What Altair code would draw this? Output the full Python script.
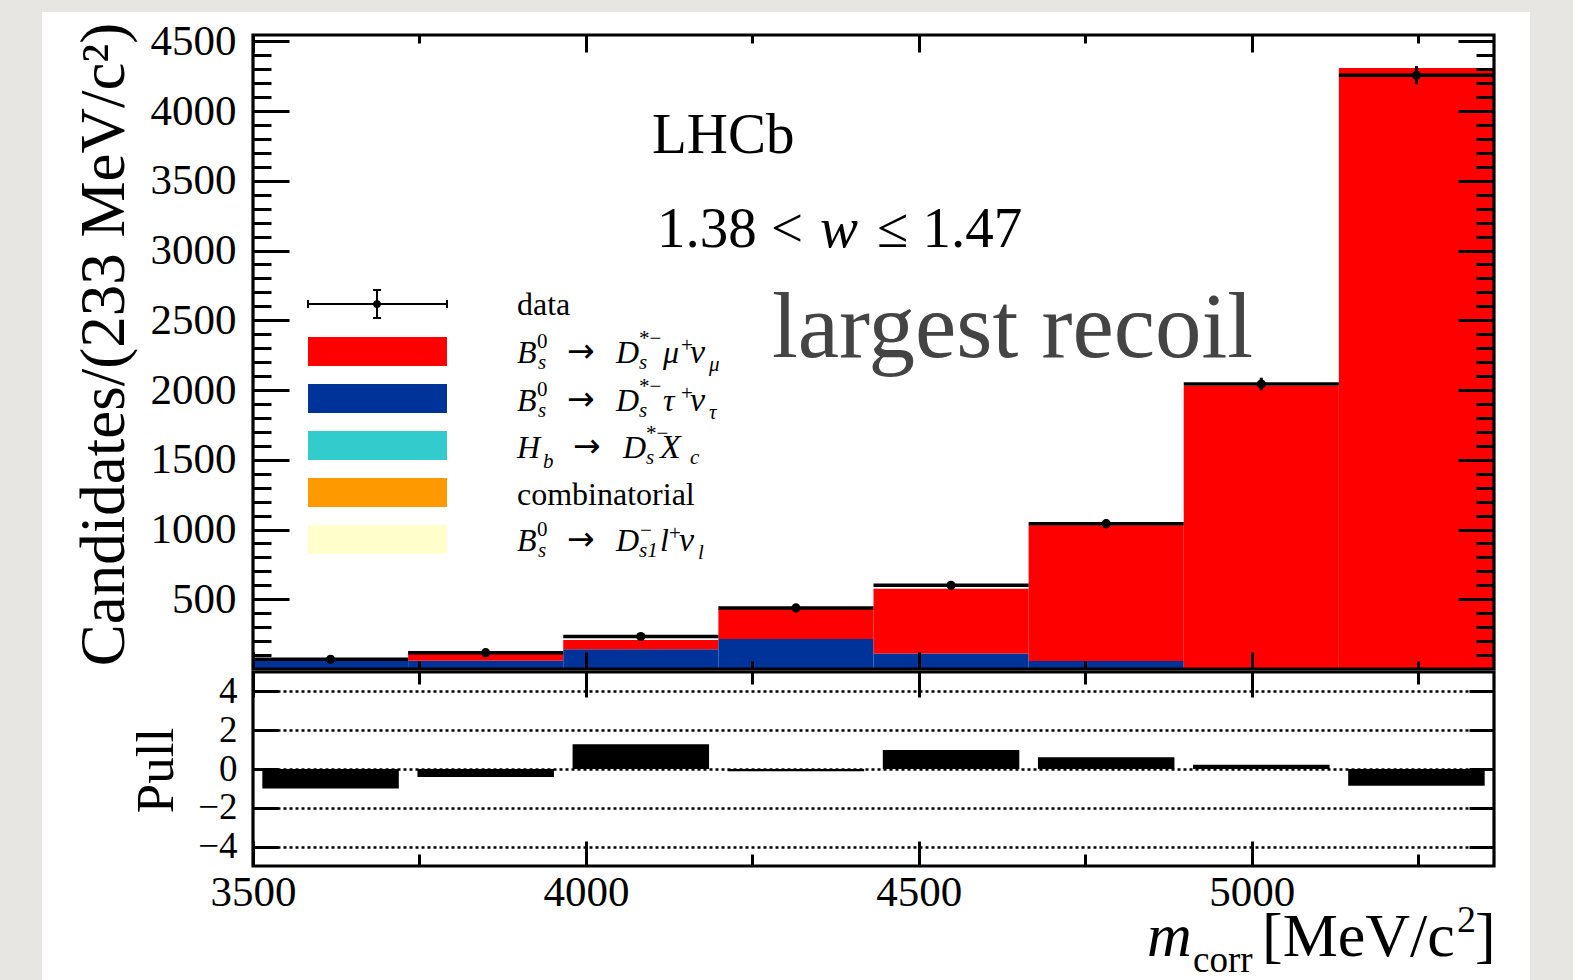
import altair as alt
import pandas as pd

# ---------------- values ----------------
bin_lo = [3500, 3733, 3966, 4199, 4432, 4665, 4898, 5131]
bin_hi = [3733, 3966, 4199, 4432, 4665, 4898, 5131, 5364]
data_counts = [70, 117, 233, 438, 600, 1042, 2043, 4257]
data_errors = [8, 11, 15, 21, 24, 32, 45, 65]
tau_counts = [57, 60, 141, 215, 112, 58, 4, 0]
mu_counts = [19, 52, 67, 217, 464, 973, 2024, 4309]
hb_counts = [0, 0, 0, 0, 0, 0, 0, 0]
comb_counts = [0, 0, 0, 0, 0, 0, 0, 0]
ds1_counts = [0, 0, 0, 0, 0, 0, 0, 0]
pull_values = [-1.0, -0.41, 1.28, -0.12, 0.98, 0.60, 0.22, -0.86]

component_keys = ["mu", "tau", "hb", "comb", "ds1"]
component_colors = ["#ff0000", "#003399", "#33cccc", "#ff9900", "#ffffcc"]
stack_order = ["tau", "mu", "hb", "comb", "ds1"]  # bottom to top

x_domain = [3500, 5364]
main_y_domain = [0, 4545]
pull_y_domain = [-5, 5]

x_major = [3500, 4000, 4500, 5000]
x_minor = [3750, 4250, 4750, 5250]
main_y_major = [500, 1000, 1500, 2000, 2500, 3000, 3500, 4000, 4500]
main_y_minor = list(range(100, 4600, 100))
pull_y_major = [-4, -2, 0, 2, 4]

y_title = "Candidates/(233 MeV/c\u00b2)"
pull_title = "Pull"

# ---------------- layout constants (pixels) ----------------
W, H = 1241, 831
MAIN_H = 634
PULL_TOP = 637
FONT = "Liberation Serif"
ARROW_FONT = "DejaVu Sans"
BAR_GAP = 14  # MeV gap on each side of pull bars

# ---------------- tables ----------------
counts_by_key = {"mu": mu_counts, "tau": tau_counts, "hb": hb_counts,
                 "comb": comb_counts, "ds1": ds1_counts}
stack_rows = []
for i in range(len(bin_lo)):
    base = 0
    for k in stack_order:
        v = counts_by_key[k][i]
        stack_rows.append({"lo": bin_lo[i], "hi": bin_hi[i], "y0": base,
                           "y1": base + v, "comp": k})
        base += v
stack_df = pd.DataFrame(stack_rows)

bins_df = pd.DataFrame({
    "lo": bin_lo, "hi": bin_hi,
    "center": [(a + b) / 2 for a, b in zip(bin_lo, bin_hi)],
    "count": data_counts,
    "elo": [c - e for c, e in zip(data_counts, data_errors)],
    "ehi": [c + e for c, e in zip(data_counts, data_errors)],
    "pull": pull_values,
    "zero": [0] * len(bin_lo),
    "blo": [a + BAR_GAP for a in bin_lo],
    "bhi": [b - BAR_GAP for b in bin_hi],
})

main_frame_df = pd.DataFrame({"x0": [x_domain[0]], "x1": [x_domain[1]],
                              "y0": [main_y_domain[0]], "y1": [main_y_domain[1]]})
pull_frame_df = pd.DataFrame({"x0": [x_domain[0]], "x1": [x_domain[1]],
                              "y0": [pull_y_domain[0]], "y1": [pull_y_domain[1]]})


def xs():
    return alt.Scale(domain=x_domain, range=[0, W], nice=False, zero=False)


def ys_main():
    return alt.Scale(domain=main_y_domain, range=[MAIN_H, 0], nice=False, zero=False)


def ys_pull():
    return alt.Scale(domain=pull_y_domain, range=[H, PULL_TOP], nice=False, zero=False)


def tick_axis(orient, values, size, offset, **kw):
    opts = dict(orient=orient, values=values, tickSize=size, offset=offset,
                domain=False, grid=False, ticks=True, tickColor="black",
                tickWidth=3, zindex=1, title=None, labels=False)
    opts.update(kw)
    return alt.Axis(**opts)


# axes ------------------------------------------------------------
ax_main_bottom_major = tick_axis("bottom", x_major, 17, -(H - MAIN_H + 17))
ax_main_bottom_minor = tick_axis("bottom", x_minor, 8, -(H - MAIN_H + 8))
ax_main_top_major = tick_axis("top", x_major, 17, -17)
ax_main_top_minor = tick_axis("top", x_minor, 8, -8)
ax_pull_top_major = tick_axis("top", x_major, 25, -(PULL_TOP + 25))
ax_pull_top_minor = tick_axis("top", x_minor, 12, -(PULL_TOP + 12))
ax_pull_bottom_major = tick_axis("bottom", x_major, 25, -25, labels=True,
                                 labelFontSize=43, labelPadding=5,
                                 labelFlush=False, format="d")
ax_pull_bottom_minor = tick_axis("bottom", x_minor, 12, -12)

ax_main_left_major = tick_axis("left", main_y_major, 36, -36, labels=True,
                               labelFontSize=43, labelPadding=17, format="d",
                               title=y_title, titleFontSize=63, titleX=-166,
                               titleY=309, titleAngle=270, titleAlign="center",
                               titleBaseline="alphabetic")
ax_main_left_minor = tick_axis("left", main_y_minor, 18, -18)
ax_main_right_major = tick_axis("right", main_y_major, 36, -36)
ax_main_right_minor = tick_axis("right", main_y_minor, 18, -18)
ax_pull_left_major = tick_axis("left", pull_y_major, 25, -25, labels=True,
                               labelFontSize=37, labelPadding=16, format="d",
                               title=pull_title, titleFontSize=53, titleX=-106,
                               titleY=735, titleAngle=270, titleAlign="center",
                               titleBaseline="alphabetic")
ax_pull_right_major = tick_axis("right", pull_y_major, 25, -25)
ax_pull_grid = alt.Axis(orient="left", values=pull_y_major, grid=True,
                        gridColor="black", gridDash=[3, 3], gridWidth=2.5,
                        ticks=False, labels=False, domain=False, title=None,
                        zindex=1)

# background panel (decorative) ------------------------------------
bg = alt.Chart(pd.DataFrame({"a": [0]})).mark_rect(color="white").encode(
    x=alt.value(-211), x2=alt.value(1277), y=alt.value(-23), y2=alt.value(945))

# main panel ---------------------------------------------------------
stack = alt.Chart(stack_df).mark_rect().encode(
    x=alt.X("lo:Q", scale=xs(), axis=ax_main_bottom_major),
    x2="hi:Q",
    y=alt.Y("y0:Q", scale=ys_main(), axis=ax_main_left_major),
    y2="y1:Q",
    color=alt.Color("comp:N", scale=alt.Scale(domain=component_keys,
                                               range=component_colors),
                    legend=None),
)

main_frame = alt.Chart(main_frame_df).mark_rect(
    fillOpacity=0, stroke="black", strokeWidth=3.2).encode(
    x=alt.X("x0:Q", scale=xs(), axis=ax_main_bottom_minor),
    x2="x1:Q",
    y=alt.Y("y0:Q", scale=ys_main(), axis=ax_main_left_minor),
    y2="y1:Q",
)

data_h = alt.Chart(bins_df).mark_rule(color="black", strokeWidth=3.5).encode(
    x=alt.X("lo:Q", scale=xs(), axis=ax_main_top_major),
    x2="hi:Q",
    y=alt.Y("count:Q", scale=ys_main(), axis=ax_main_right_major),
)

data_v = alt.Chart(bins_df).mark_rule(color="black", strokeWidth=3).encode(
    x=alt.X("center:Q", scale=xs(), axis=ax_main_top_minor),
    y=alt.Y("elo:Q", scale=ys_main(), axis=ax_main_right_minor),
    y2="ehi:Q",
)

data_pts = alt.Chart(bins_df).mark_circle(color="black", size=85, opacity=1).encode(
    x=alt.X("center:Q", scale=xs(), axis=ax_pull_top_major),
    y=alt.Y("count:Q", scale=ys_main(), axis=None),
)

# pull panel ---------------------------------------------------------
pull_bars = alt.Chart(bins_df).mark_rect(color="black").encode(
    x=alt.X("blo:Q", scale=xs(), axis=ax_pull_bottom_major),
    x2="bhi:Q",
    y=alt.Y("zero:Q", scale=ys_pull(), axis=ax_pull_right_major),
    y2="pull:Q",
)

pull_frame = alt.Chart(pull_frame_df).mark_rect(
    fillOpacity=0, stroke="black", strokeWidth=3.2).encode(
    x=alt.X("x0:Q", scale=xs(), axis=ax_pull_top_minor),
    x2="x1:Q",
    y=alt.Y("y0:Q", scale=ys_pull(), axis=ax_pull_left_major),
    y2="y1:Q",
)

pull_carrier = alt.Chart(bins_df).mark_point(opacity=0).encode(
    x=alt.X("center:Q", scale=xs(), axis=ax_pull_bottom_minor),
    y=alt.Y("pull:Q", scale=ys_pull(), axis=ax_pull_grid),
)

# text annotations (pixel layout) -------------------------------------
LX = 264  # legend text x
row_base = [280, 328, 376, 423, 470, 516]
S, s = 32, 21

pieces = []  # (x, y, text, size, italic, color, font)


def add(row, dx, dy, t, size=S, italic=False, font=FONT):
    pieces.append((LX + dx, row_base[row] + dy, t, size, italic, "black", font))


add(0, 0, 0, "data")
for r, (lep, lsub) in ((1, ("\u03bc", "\u03bc")), (2, ("\u03c4", "\u03c4"))):
    add(r, 0, 0, "B", italic=True)
    add(r, 20, -15, "0", s)
    add(r, 21, 6, "s", s, True)
    add(r, 50, -1, "\u2192", 33, font=ARROW_FONT)
    add(r, 99, 0, "D", italic=True)
    add(r, 122, -18, "*\u2212", s)
    add(r, 122, 6, "s", s, True)
    add(r, 146, 0, lep, italic=True)
    add(r, 164, -11, "+", s)
    add(r, 173, 0, "\u03bd", 34, True)
    add(r, 192, 8, lsub, s, True)
add(3, 0, 0, "H", italic=True)
add(3, 26, 10, "b", s, True)
add(3, 56, -1, "\u2192", 33, font=ARROW_FONT)
add(3, 106, 0, "D", italic=True)
add(3, 129, -18, "*\u2212", s)
add(3, 129, 6, "s", s, True)
add(3, 143, 0, "X", 34, True)
add(3, 173, 6, "c", s, True)
add(4, 0, 0, "combinatorial")
add(5, 0, 0, "B", italic=True)
add(5, 20, -15, "0", s)
add(5, 21, 6, "s", s, True)
add(5, 50, -1, "\u2192", 33, font=ARROW_FONT)
add(5, 99, 0, "D", italic=True)
add(5, 123, -14, "\u2212", s)
add(5, 122, 6, "s1", s, True)
add(5, 143, 0, "l", italic=True)
add(5, 152, -11, "+", s)
add(5, 162, 0, "\u03bd", 34, True)
add(5, 181, 8, "l", s, True)

# labels inside the plot
pieces.append((399, 118, "LHCb", 57, False, "black", FONT))
pieces.append((404, 212, "1.38 <", 57, False, "black", FONT))
pieces.append((567, 212, "w", 57, True, "black", FONT))
pieces.append((624, 212, "\u2264 1.47", 57, False, "black", FONT))
pieces.append((519, 322, "largest recoil", 93, False, "#444444", FONT))
# x-axis title
pieces.append((894, 921, "m", 62, True, "black", FONT))
pieces.append((940, 937, "corr", 37, False, "black", FONT))
pieces.append((1009, 921, "[MeV/c", 62, False, "black", FONT))
pieces.append((1204, 897, "2", 38, False, "black", FONT))
pieces.append((1222, 921, "]", 62, False, "black", FONT))

pieces_df = pd.DataFrame(pieces, columns=["px", "py", "t", "fs", "it", "col", "fam"])


def text_layer(df, style, font):
    return alt.Chart(df).mark_text(font=font, fontStyle=style, align="left",
                                   baseline="alphabetic").encode(
        x=alt.X("px:Q", scale=None, axis=None),
        y=alt.Y("py:Q", scale=None, axis=None),
        text="t:N",
        size=alt.Size("fs:Q", scale=None, legend=None),
        color=alt.Color("col:N", scale=None, legend=None),
    )


serif = pieces_df[pieces_df["fam"] == FONT]
txt_normal = text_layer(serif[~serif["it"]], "normal", FONT)
txt_italic = text_layer(serif[serif["it"]], "italic", FONT)
txt_arrow = text_layer(pieces_df[pieces_df["fam"] == ARROW_FONT], "normal", ARROW_FONT)

# legend graphics
leg_seg_df = pd.DataFrame({
    "x1": [55, 124, 55, 194, 120, 120],
    "x2": [194, 124, 55, 194, 128, 128],
    "y1": [269, 255, 265, 265, 255, 283],
    "y2": [269, 283, 273, 273, 255, 283],
})
leg_segs = alt.Chart(leg_seg_df).mark_rule(color="black", strokeWidth=2).encode(
    x=alt.X("x1:Q", scale=None, axis=None), x2="x2:Q",
    y=alt.Y("y1:Q", scale=None, axis=None), y2="y2:Q")
leg_pt = alt.Chart(pd.DataFrame({"x": [124], "y": [269]})).mark_circle(
    color="black", size=60, opacity=1).encode(
    x=alt.X("x:Q", scale=None, axis=None), y=alt.Y("y:Q", scale=None, axis=None))
leg_box_df = pd.DataFrame({
    "x1": [55] * 5, "x2": [194] * 5,
    "y1": [302 + 47 * i for i in range(5)],
    "y2": [331 + 47 * i for i in range(5)],
    "col": component_colors,
})
leg_boxes = alt.Chart(leg_box_df).mark_rect().encode(
    x=alt.X("x1:Q", scale=None, axis=None), x2="x2:Q",
    y=alt.Y("y1:Q", scale=None, axis=None), y2="y2:Q",
    color=alt.Color("col:N", scale=None, legend=None))

chart = alt.layer(
    bg, stack, main_frame, data_h, data_v, data_pts,
    pull_bars, pull_frame, pull_carrier,
    leg_boxes, leg_segs, leg_pt, txt_normal, txt_italic, txt_arrow,
).resolve_scale(
    y="independent", color="independent", size="independent"
).resolve_axis(
    x="independent", y="independent"
).properties(
    width=W, height=H,
    autosize=alt.AutoSizeParams(type="none"),
    padding={"left": 253, "top": 35, "right": 79, "bottom": 114},
    background="#e8e6e3",
).configure_view(
    strokeWidth=0
).configure_axis(
    labelFont=FONT, titleFont=FONT, labelColor="black", titleColor="black",
    titleFontWeight="normal"
)

chart.save("out.html", embed_options={"renderer": "svg", "actions": False})
